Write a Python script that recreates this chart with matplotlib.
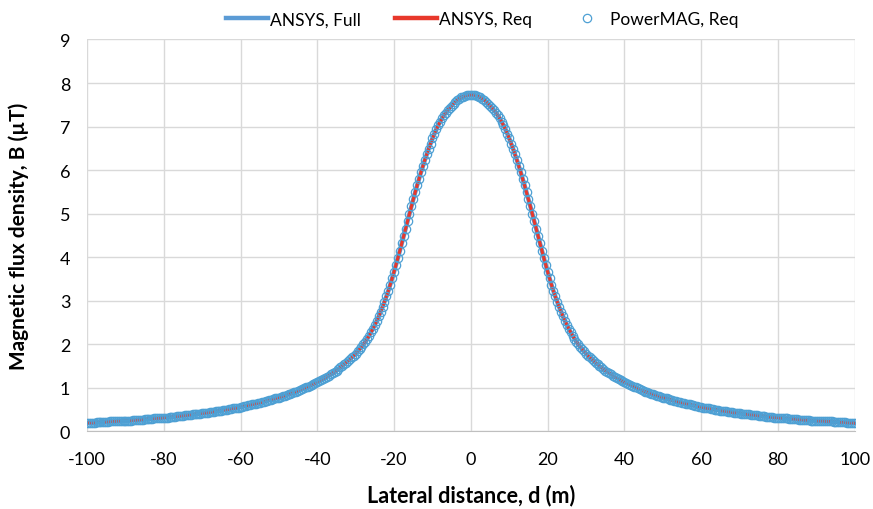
import matplotlib.pyplot as plt
import numpy as np

# lateral distance grid (m), 0.5 m step as in the reference markers
d_left = np.arange(-100.0, 0.0, 0.5)
d_right = np.arange(0.0, 100.5, 0.5)

# B (uT), d = -100 ... -0.5
b_left = [
    0.19, 0.20, 0.20, 0.20, 0.20, 0.21, 0.21, 0.21, 0.21, 0.22,
    0.22, 0.22, 0.23, 0.23, 0.23, 0.23, 0.24, 0.24, 0.24, 0.24,
    0.25, 0.25, 0.25, 0.25, 0.26, 0.26, 0.26, 0.27, 0.27, 0.27,
    0.28, 0.28, 0.29, 0.29, 0.29, 0.30, 0.30, 0.30, 0.31, 0.31,
    0.32, 0.32, 0.32, 0.33, 0.33, 0.34, 0.34, 0.35, 0.35, 0.36,
    0.36, 0.37, 0.37, 0.38, 0.38, 0.39, 0.39, 0.40, 0.40, 0.41,
    0.42, 0.42, 0.43, 0.43, 0.44, 0.45, 0.45, 0.46, 0.47, 0.47,
    0.48, 0.49, 0.50, 0.50, 0.51, 0.52, 0.53, 0.53, 0.54, 0.55,
    0.56, 0.57, 0.58, 0.59, 0.60, 0.61, 0.62, 0.63, 0.64, 0.65,
    0.66, 0.67, 0.68, 0.69, 0.71, 0.72, 0.73, 0.74, 0.76, 0.77,
    0.78, 0.79, 0.81, 0.82, 0.84, 0.85, 0.87, 0.88, 0.90, 0.91,
    0.93, 0.95, 0.97, 0.99, 1.01, 1.03, 1.05, 1.07, 1.09, 1.11,
    1.13, 1.15, 1.18, 1.20, 1.23, 1.25, 1.28, 1.31, 1.34, 1.37,
    1.40, 1.43, 1.47, 1.50, 1.54, 1.58, 1.62, 1.66, 1.70, 1.74,
    1.79, 1.84, 1.89, 1.94, 2.00, 2.06, 2.13, 2.20, 2.28, 2.36,
    2.45, 2.54, 2.64, 2.75, 2.86, 2.98, 3.10, 3.23, 3.37, 3.52,
    3.67, 3.83, 3.99, 4.15, 4.32, 4.49, 4.66, 4.83, 5.00, 5.17,
    5.33, 5.49, 5.65, 5.80, 5.95, 6.09, 6.23, 6.36, 6.49, 6.61,
    6.73, 6.84, 6.94, 7.03, 7.11, 7.19, 7.26, 7.32, 7.38, 7.43,
    7.48, 7.53, 7.57, 7.61, 7.64, 7.67, 7.69, 7.71, 7.72, 7.73,
]
# d = 0 ... 100
b_right = [
    7.73, 7.73, 7.72, 7.71, 7.69, 7.67, 7.64, 7.61, 7.57, 7.53,
    7.48, 7.43, 7.38, 7.32, 7.26, 7.19, 7.11, 7.03, 6.94, 6.84,
    6.73, 6.61, 6.49, 6.36, 6.23, 6.09, 5.95, 5.80, 5.65, 5.49,
    5.33, 5.17, 5.00, 4.83, 4.66, 4.49, 4.32, 4.15, 3.99, 3.83,
    3.67, 3.52, 3.37, 3.23, 3.10, 2.98, 2.86, 2.75, 2.64, 2.54,
    2.45, 2.36, 2.28, 2.20, 2.13, 2.06, 2.00, 1.94, 1.89, 1.84,
    1.79, 1.74, 1.70, 1.66, 1.62, 1.58, 1.54, 1.50, 1.47, 1.43,
    1.40, 1.37, 1.34, 1.31, 1.28, 1.25, 1.23, 1.20, 1.18, 1.15,
    1.13, 1.11, 1.09, 1.07, 1.05, 1.03, 1.01, 0.99, 0.97, 0.95,
    0.93, 0.91, 0.90, 0.88, 0.87, 0.85, 0.84, 0.82, 0.81, 0.79,
    0.78, 0.77, 0.76, 0.74, 0.73, 0.72, 0.71, 0.69, 0.68, 0.67,
    0.66, 0.65, 0.64, 0.63, 0.62, 0.61, 0.60, 0.59, 0.58, 0.57,
    0.56, 0.55, 0.54, 0.53, 0.53, 0.52, 0.51, 0.50, 0.50, 0.49,
    0.48, 0.47, 0.47, 0.46, 0.45, 0.45, 0.44, 0.43, 0.43, 0.42,
    0.42, 0.41, 0.40, 0.40, 0.39, 0.39, 0.38, 0.38, 0.37, 0.37,
    0.36, 0.36, 0.35, 0.35, 0.34, 0.34, 0.33, 0.33, 0.32, 0.32,
    0.32, 0.31, 0.31, 0.30, 0.30, 0.30, 0.29, 0.29, 0.29, 0.28,
    0.28, 0.27, 0.27, 0.27, 0.26, 0.26, 0.26, 0.25, 0.25, 0.25,
    0.25, 0.24, 0.24, 0.24, 0.24, 0.23, 0.23, 0.23, 0.23, 0.22,
    0.22, 0.22, 0.21, 0.21, 0.21, 0.21, 0.20, 0.20, 0.20, 0.20,
    0.19,
]

d = np.concatenate([d_left, d_right])
b = np.array(b_left + b_right)
# the three series coincide at the resolution of the picture
b_ansys_full = b
b_ansys_req = b
b_powermag = b

x_ticks = [-100, -80, -60, -40, -20, 0, 20, 40, 60, 80, 100]
y_ticks = [0, 1, 2, 3, 4, 5, 6, 7, 8, 9]

plt.rcParams["font.family"] = ["Lato", "DejaVu Sans"]
plt.rcParams["axes.unicode_minus"] = False

fig = plt.figure(figsize=(8.73, 5.10), dpi=100)
ax = fig.add_axes([0.0997, 0.152, 0.8793, 0.7686])

ax.plot(d, b_ansys_full, color="#5B9BD5", lw=3.2, label="ANSYS, Full", zorder=2)
ax.plot(d, b_ansys_req, color="#E8382B", lw=2.2, label="ANSYS, Req", zorder=3)
ax.plot(d, b_powermag, ls="none", marker="o", ms=6, mfc="none", mec="#4EA0D4",
        mew=0.9, label="PowerMAG, Req", zorder=4)

ax.set_xlim(-100, 100)
ax.set_ylim(0, 9)
ax.set_xticks(x_ticks)
ax.set_yticks(y_ticks)
ax.grid(True, color="#D9D9D9", lw=1)
ax.set_axisbelow(True)
for s in ["left", "right", "top"]:
    ax.spines[s].set_visible(False)
ax.spines["bottom"].set_color("#BFBFBF")
ax.tick_params(length=0, labelsize=13, pad=14, colors="#000000")
ax.tick_params(axis="y", pad=12)

ax.set_xlabel("Lateral distance, d (m)", fontsize=15.5, fontweight="bold", labelpad=12)
ax.set_ylabel("Magnetic flux density, B (µT)", fontsize=15, fontweight="bold", labelpad=22)

leg = ax.legend(loc="lower center", bbox_to_anchor=(0.515, 1.0), ncol=3, frameon=False,
                fontsize=12.5, handlelength=2.4, columnspacing=2.0, handletextpad=0.1,
                borderaxespad=0.3)
for h in leg.legend_handles[:2]:
    h.set_linewidth(3.2)

fig.savefig("out.png", dpi=100)
